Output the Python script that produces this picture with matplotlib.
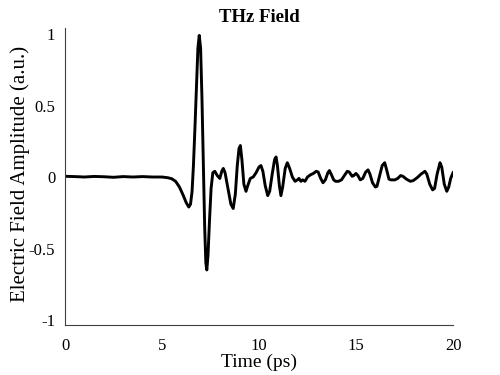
import matplotlib
matplotlib.use("Agg")
import matplotlib.pyplot as plt

plt.rcParams['font.family'] = ['Liberation Serif', 'DejaVu Serif']
plt.rcParams['axes.unicode_minus'] = False

# time (ps) and field amplitude (a.u.)
time_ps = [
    0.0, 0.5, 1.0, 1.5, 2.0, 2.5, 3.0, 3.5, 4.0, 4.5, 5.0, 5.3, 5.5, 5.7, 5.9,
    6.1, 6.25, 6.38, 6.47, 6.55, 6.62, 6.70, 6.78, 6.85, 6.92, 6.99, 7.06, 7.13,
    7.20, 7.26, 7.31, 7.37, 7.45, 7.53, 7.62, 7.72, 7.85, 7.98, 8.08, 8.16, 8.25,
    8.40, 8.55, 8.67, 8.78, 8.88, 8.97, 9.04, 9.12, 9.22, 9.33, 9.42, 9.55, 9.70,
    9.85, 10.0, 10.1, 10.2, 10.32, 10.45, 10.55, 10.68, 10.8, 10.88, 10.95, 11.05,
    11.13, 11.22, 11.35, 11.46, 11.58, 11.72, 11.86, 11.98, 12.06, 12.16, 12.25,
    12.37, 12.5, 12.65, 12.8, 12.95, 13.05, 13.18, 13.3, 13.42, 13.55, 13.63,
    13.72, 13.85, 13.95, 14.1, 14.25, 14.4, 14.55, 14.65, 14.8, 14.88, 15.0, 15.1,
    15.22, 15.35, 15.5, 15.62, 15.72, 15.85, 16.0, 16.08, 16.2, 16.35, 16.48,
    16.58, 16.7, 16.8, 17.0, 17.15, 17.3, 17.42, 17.6, 17.8, 17.95, 18.15, 18.35,
    18.55, 18.65, 18.8, 18.95, 19.05, 19.18, 19.33, 19.42, 19.55, 19.68, 19.78,
    19.88, 20.0,
]
field = [
    0.005, 0.003, 0.0, 0.004, 0.002, -0.002, 0.003, 0.0, 0.003, 0.0, 0.0, -0.005,
    -0.012, -0.03, -0.07, -0.13, -0.18, -0.21, -0.19, -0.10, 0.08, 0.35, 0.65,
    0.90, 0.99, 0.90, 0.55, 0.10, -0.35, -0.60, -0.65, -0.55, -0.30, -0.08, 0.03,
    0.04, 0.01, -0.01, 0.04, 0.06, 0.03, -0.08, -0.19, -0.22, -0.12, 0.08, 0.20,
    0.22, 0.12, -0.05, -0.10, -0.06, -0.01, 0.0, 0.03, 0.07, 0.08, 0.04, -0.06,
    -0.13, -0.10, 0.02, 0.12, 0.14, 0.08, -0.06, -0.13, -0.07, 0.06, 0.10, 0.06,
    0.0, -0.03, -0.02, -0.01, -0.03, -0.02, -0.03, 0.0, 0.015, 0.025, 0.04, 0.035,
    -0.01, -0.04, -0.02, 0.03, 0.045, 0.02, -0.02, -0.03, -0.03, -0.02, 0.01,
    0.04, 0.035, 0.005, 0.01, 0.025, 0.01, -0.02, -0.01, 0.035, 0.05, 0.02,
    -0.04, -0.07, -0.065, 0.0, 0.08, 0.10, 0.05, -0.015, -0.02, -0.02, -0.01,
    0.01, 0.005, -0.015, -0.03, -0.025, -0.005, 0.02, 0.04, 0.02, -0.05, -0.09,
    -0.08, 0.02, 0.10, 0.07, -0.05, -0.10, -0.07, -0.01, 0.03,
]
x_ticks = [0, 5, 10, 15, 20]
y_ticks = [-1, -0.5, 0, 0.5, 1]
y_tick_labels = ["-1", "-0.5", "0", "0.5", "1"]

fig = plt.figure(figsize=(5, 3.75), dpi=100)
ax = fig.add_axes([0.13, 0.1333, 0.776, 0.792])

ax.plot(time_ps, field, color='black', linewidth=2.1, solid_joinstyle='round')

ax.set_xlim(0, 20)
ax.set_ylim(-1.035, 1.042)
ax.set_xticks(x_ticks)
ax.set_yticks(y_ticks)
ax.set_yticklabels(y_tick_labels)
ax.tick_params(length=0, labelsize=12)
ax.tick_params(axis='x', pad=9)
ax.tick_params(axis='y', pad=7)

for side in ['top', 'right']:
    ax.spines[side].set_visible(False)
for side in ['left', 'bottom']:
    ax.spines[side].set_color('#404040')
    ax.spines[side].set_linewidth(0.8)

ax.set_xlabel("Time (ps)", fontsize=14, labelpad=0)
ax.set_ylabel("Electric Field Amplitude (a.u.)", fontsize=15, labelpad=1)
ax.yaxis.set_label_coords(-0.09, 0.51)
ax.set_title("THz Field", fontsize=13.5, fontweight='bold', pad=4)

fig.savefig("out.png", dpi=100)
